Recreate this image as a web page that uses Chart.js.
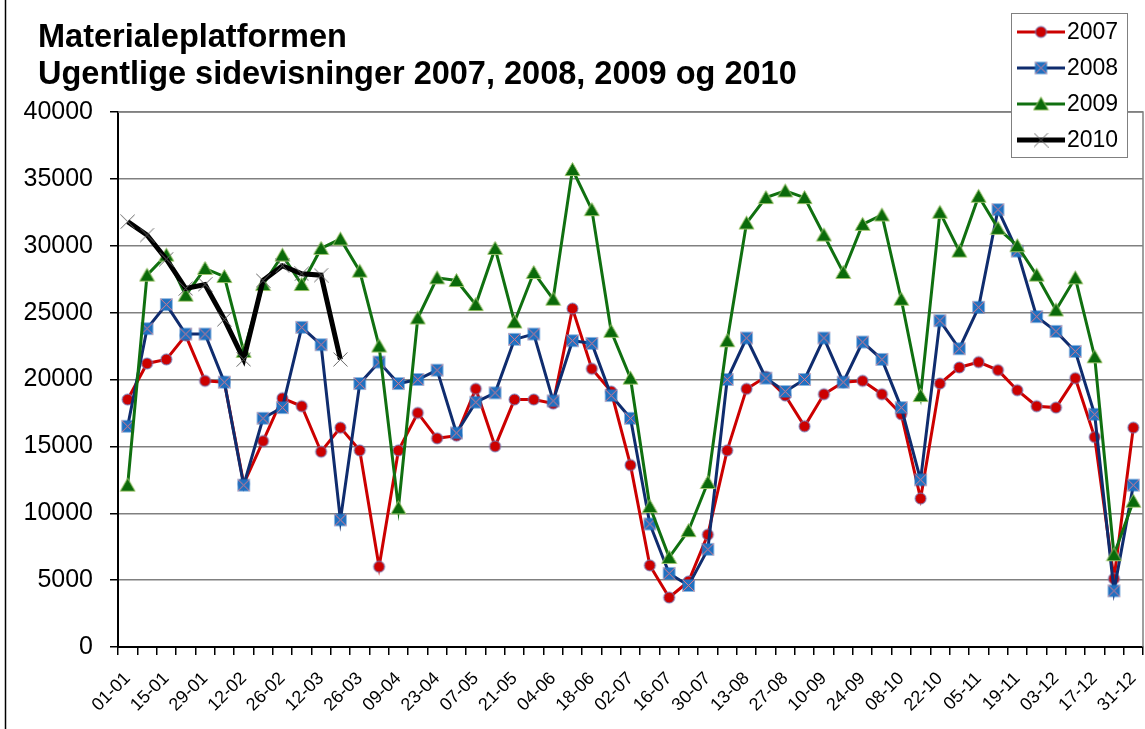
<!DOCTYPE html>
<html>
<head>
<meta charset="utf-8">
<title>Materialeplatformen</title>
<script src="https://cdn.jsdelivr.net/npm/chart.js@4/dist/chart.umd.min.js"></script>
<style>
  html, body { margin: 0; padding: 0; background: #fff; }
  canvas { display: block; }
</style>
</head>
<body>
<canvas id="views-chart" width="1145" height="729"></canvas>
<script>
// Chart data (weekly page views)
const weeks = [
    '01-01', '08-01', '15-01', '22-01', '29-01', '05-02', '12-02', '19-02', '26-02',
    '05-03', '12-03', '19-03', '26-03', '02-04', '09-04', '16-04', '23-04', '30-04',
    '07-05', '14-05', '21-05', '28-05', '04-06', '11-06', '18-06', '25-06', '02-07',
    '09-07', '16-07', '23-07', '30-07', '06-08', '13-08', '20-08', '27-08', '03-09',
    '10-09', '17-09', '24-09', '01-10', '08-10', '15-10', '22-10', '29-10', '05-11',
    '12-11', '19-11', '26-11', '03-12', '10-12', '17-12', '24-12', '31-12'
];

const views2007 = [
    18500, 21200, 21500, 23300, 19900, 19800, 12200, 15400, 18600, 18000,
    14600, 16400, 14700, 6000, 14700, 17500, 15600, 15800, 19300, 15000,
    18500, 18500, 18200, 25300, 20800, 19100, 13600, 6100, 3700, 4900,
    8400, 14700, 19300, 20200, 18800, 16500, 18900, 19800, 19900, 18900,
    17400, 11100, 19700, 20900, 21300, 20700, 19200, 18000, 17900, 20100,
    15700, 5100, 16400
];

const views2008 = [
    16500, 23800, 25600, 23400, 23400, 19800, 12100, 17100, 17900, 23900,
    22600, 9500, 19700, 21300, 19700, 20000, 20700, 16000, 18300, 19000,
    23000, 23400, 18400, 22900, 22700, 18800, 17100, 9200, 5500, 4600,
    7300, 20000, 23100, 20100, 19100, 20000, 23100, 19800, 22800, 21500,
    17900, 12500, 24400, 22300, 25400, 32700, 29600, 24700, 23600, 22100,
    17400, 4200, 12100
];

const views2009 = [
    12100, 27800, 29300, 26300, 28300, 27700, 22100, 27100, 29300, 27100,
    29800, 30500, 28100, 22500, 10400, 24600, 27600, 27400, 25600, 29800,
    24300, 28000, 26000, 35700, 32700, 23600, 20100, 10500, 6700, 8700,
    12300, 22900, 31700, 33600, 34100, 33600, 30800, 28000, 31600, 32300,
    26000, 18800, 32500, 29600, 33700, 31300, 30000, 27800, 25200, 27600,
    21700, 6900, 10900
];

const views2010 = [
    31800, 30800, 29000, 26800, 27100, 24500, 21500, 27400, 28500, 27900,
    27800, 21500
];

const yTicks = [0, 5000, 10000, 15000, 20000, 25000, 30000, 35000, 40000];
const seriesNames = ['2007', '2008', '2009', '2010'];
const titleLines = ['Materialeplatformen', 'Ugentlige sidevisninger 2007, 2008, 2009 og 2010'];

const FONT = '"Liberation Sans", Arial, sans-serif';

// Marker images drawn once, used for the points and the legend
function makeMarker(kind) {
    const c = document.createElement('canvas');
    const size = kind === 'triangle' ? 17 : 15;
    c.width = size;
    c.height = size;
    const g = c.getContext('2d');
    const m = size / 2;
    if (kind === 'circle') {
        g.beginPath();
        g.arc(m, m, 5.5, 0, Math.PI * 2);
        g.fillStyle = '#cc0000';
        g.fill();
        g.lineWidth = 1;
        g.strokeStyle = '#6b82c4';
        g.stroke();
    } else if (kind === 'square') {
        g.fillStyle = '#2070c0';
        g.fillRect(m - 6, m - 6, 12, 12);
        g.strokeStyle = '#e07a8a';
        g.lineWidth = 1;
        g.beginPath();
        g.moveTo(m - 6, m - 6); g.lineTo(m + 6, m + 6);
        g.moveTo(m + 6, m - 6); g.lineTo(m - 6, m + 6);
        g.stroke();
    } else if (kind === 'triangle') {
        g.beginPath();
        g.moveTo(m, m - 7);
        g.lineTo(m + 7.5, m + 6);
        g.lineTo(m - 7.5, m + 6);
        g.closePath();
        g.fillStyle = '#0a6a0a';
        g.fill();
        g.lineWidth = 1;
        g.strokeStyle = '#9bc36b';
        g.stroke();
    } else {
        g.strokeStyle = '#666';
        g.lineWidth = 1;
        g.beginPath();
        g.moveTo(m - 7, m - 7); g.lineTo(m + 7, m + 7);
        g.moveTo(m + 7, m - 7); g.lineTo(m - 7, m + 7);
        g.stroke();
    }
    return c;
}

// Title, white background, left frame line and plot border
const framePlugin = {
    id: 'frame',
    beforeDraw(chart) {
        const ctx = chart.ctx;
        ctx.save();
        ctx.fillStyle = '#fff';
        ctx.fillRect(0, 0, chart.width, chart.height);
        ctx.strokeStyle = '#000';
        ctx.lineWidth = 1.5;
        ctx.beginPath();
        ctx.moveTo(5.5, 0);
        ctx.lineTo(5.5, chart.height);
        ctx.stroke();
        ctx.fillStyle = '#000';
        ctx.font = 'bold 32.5px ' + FONT;
        ctx.textBaseline = 'alphabetic';
        ctx.fillText(titleLines[0], 38, 47);
        ctx.fillText(titleLines[1], 38, 84);
        ctx.restore();
    },
    beforeDatasetsDraw(chart) {
        const a = chart.chartArea;
        const ctx = chart.ctx;
        ctx.save();
        ctx.strokeStyle = '#808080';
        ctx.lineWidth = 1.5;
        ctx.beginPath();
        ctx.moveTo(a.left, a.top);
        ctx.lineTo(a.right, a.top);
        ctx.lineTo(a.right, a.bottom);
        ctx.stroke();
        ctx.restore();
    }
};

// Legend box in the upper right corner
const legendPlugin = {
    id: 'boxLegend',
    afterDraw(chart) {
        const ctx = chart.ctx;
        const box = { x: 1011, y: 13, w: 116, h: 144 };
        ctx.save();
        ctx.fillStyle = '#fff';
        ctx.fillRect(box.x, box.y, box.w, box.h);
        ctx.strokeStyle = '#808080';
        ctx.lineWidth = 1;
        ctx.strokeRect(box.x + 0.5, box.y + 0.5, box.w, box.h);
        ctx.font = '23px ' + FONT;
        ctx.textBaseline = 'middle';
        ctx.fillStyle = '#000';
        chart.data.datasets.forEach((ds, i) => {
            const y = box.y + 19 + i * 36;
            ctx.strokeStyle = ds.borderColor;
            ctx.lineWidth = ds.borderWidth;
            ctx.beginPath();
            ctx.moveTo(box.x + 6, y);
            ctx.lineTo(box.x + 54, y);
            ctx.stroke();
            const img = ds.pointStyle;
            ctx.drawImage(img, box.x + 30 - img.width / 2, y - img.height / 2);
            ctx.fillText(ds.label, box.x + 56, y + 1);
        });
        ctx.restore();
    }
};

// Line dataset helper
function makeSeries(name, values, color, width, marker, order) {
    return {
        label: name,
        data: values,
        borderColor: color,
        borderWidth: width,
        pointStyle: makeMarker(marker),
        pointRadius: 6,
        pointHoverRadius: 6,
        tension: 0,
        fill: false,
        order: order
    };
}

const ctx = document.getElementById('views-chart').getContext('2d');
new Chart(ctx, {
    type: 'line',
    data: {
        labels: weeks,
        datasets: [
            makeSeries(seriesNames[0], views2007, '#cc0000', 3, 'circle', 4),
            makeSeries(seriesNames[1], views2008, '#0f2c6e', 3, 'square', 3),
            makeSeries(seriesNames[2], views2009, '#107010', 3, 'triangle', 2),
            makeSeries(seriesNames[3], views2010, '#000000', 5, 'cross', 1)
        ]
    },
    options: {
        responsive: false,
        animation: false,
        layout: {
            autoPadding: false,
            padding: { top: 112, right: 2, left: 0, bottom: 0 }
        },
        plugins: {
            legend: { display: false },
            title: { display: false },
            tooltip: { enabled: false }
        },
        scales: {
            x: {
                offset: true,
                grid: {
                    offset: true,
                    drawOnChartArea: false,
                    drawTicks: true,
                    tickLength: 8,
                    color: '#000',
                    lineWidth: 1.5
                },
                border: { color: '#000', width: 2 },
                ticks: {
                    autoSkip: false,
                    minRotation: 45,
                    maxRotation: 45,
                    padding: 13,
                    color: '#000',
                    font: { family: FONT, size: 18 },
                    callback: function(value, index) {
                        return index % 2 === 0 ? weeks[index] : '';
                    }
                },
                afterFit: function(scale) {
                    scale.height = 82;
                    // labels end at their tick, so no extra side room is needed
                    scale.paddingLeft = 0;
                    scale.paddingRight = 0;
                }
            },
            y: {
                min: 0,
                max: 40000,
                grid: {
                    color: '#808080',
                    lineWidth: 1.5,
                    tickColor: '#000',
                    tickLength: 8
                },
                border: { color: '#000', width: 2 },
                ticks: {
                    padding: 17,
                    color: '#000',
                    font: { family: FONT, size: 25 },
                    callback: function(value) {
                        return String(value);
                    }
                },
                afterBuildTicks: function(scale) {
                    scale.ticks = yTicks.map(v => ({ value: v }));
                },
                afterFit: function(scale) {
                    scale.width = 118;
                }
            }
        }
    },
    plugins: [framePlugin, legendPlugin]
});
</script>
</body>
</html>
